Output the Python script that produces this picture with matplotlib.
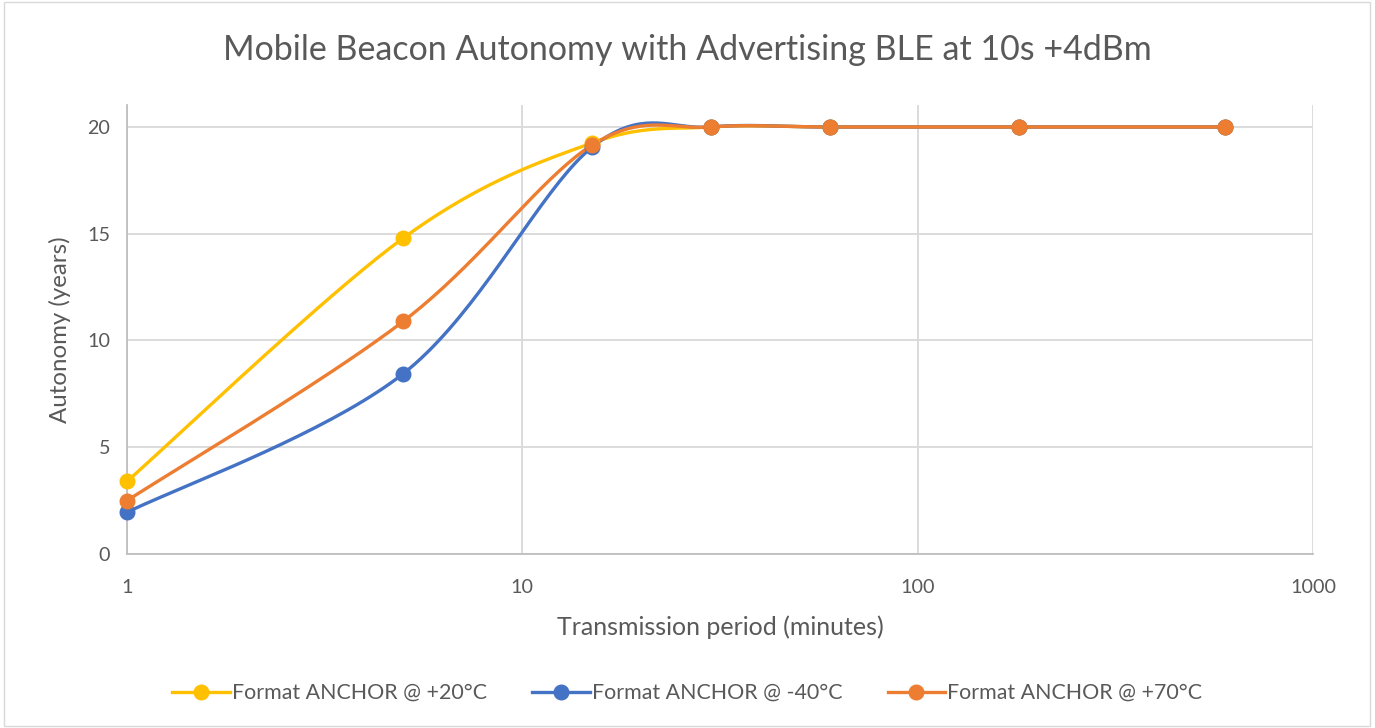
import numpy as np
import matplotlib
matplotlib.use("Agg")
import matplotlib.pyplot as plt
from matplotlib.patches import Rectangle

plt.rcParams['font.family'] = ['Lato', 'DejaVu Sans']

# data
periods = [1, 5, 15, 30, 60, 180, 600]
series_names = ["Format ANCHOR @ +20°C", "Format ANCHOR @ -40°C", "Format ANCHOR @ +70°C"]
autonomy_p20 = [3.4, 14.8, 19.25, 20, 20, 20, 20]
autonomy_m40 = [1.95, 8.45, 19.05, 20, 20, 20, 20]
autonomy_p70 = [2.5, 10.9, 19.15, 20, 20, 20, 20]
colors = ["#FFC000", "#4472C4", "#ED7D31"]

txt = "#595959"
grid = "#D9D9D9"

fig = plt.figure(figsize=(13.75, 7.28), dpi=100)
ax = fig.add_axes([127/1375, 1-554/728, (1313-127)/1375, (554-105)/728])
ax.set_xscale('log')
ax.set_xlim(1, 1000)
ax.set_ylim(0, 21.03)
ax.set_yticks([0, 5, 10, 15, 20])
ax.set_xticks([1, 10, 100, 1000])
ax.set_xticklabels(['1', '10', '100', '1000'])
ax.minorticks_off()
ax.grid(True, color=grid, linewidth=1.3)
ax.set_axisbelow(True)
for s in ['top', 'right']:
    ax.spines[s].set_visible(False)
for s in ['left', 'bottom']:
    ax.spines[s].set_color('#BFBFBF')
    ax.spines[s].set_linewidth(1.3)
ax.tick_params(length=0, labelsize=14.2, labelcolor=txt)
ax.tick_params(axis='x', pad=18)
ax.tick_params(axis='y', pad=12)


def smooth(xs, ys, n=40):
    # Excel-like smoothed line: Catmull-Rom bezier in screen space
    pts = ax.transData.transform(np.column_stack([xs, ys]))
    out = []
    m = len(pts)
    for i in range(m - 1):
        p0 = pts[max(i - 1, 0)]
        p1 = pts[i]
        p2 = pts[i + 1]
        p3 = pts[min(i + 2, m - 1)]
        c1 = p1 + (p2 - p0) / 6.0
        c2 = p2 - (p3 - p1) / 6.0
        t = np.linspace(0, 1, n)[:, None]
        seg = ((1-t)**3)*p1 + 3*((1-t)**2)*t*c1 + 3*(1-t)*(t**2)*c2 + (t**3)*p2
        out.append(seg if i == 0 else seg[1:])
    out = np.vstack(out)
    d = ax.transData.inverted().transform(out)
    return d[:, 0], d[:, 1]


handles = []
for vals, name, c in zip([autonomy_p20, autonomy_m40, autonomy_p70], series_names, colors):
    sx, sy = smooth(periods, vals)
    ax.plot(sx, sy, color=c, linewidth=2.4, solid_capstyle='round', zorder=3, clip_on=False)
    ax.plot(periods, vals, 'o', color=c, markersize=10.5, zorder=4, clip_on=False)
    h, = ax.plot([], [], '-o', color=c, linewidth=2.4, markersize=10.5, label=name)
    handles.append(h)

ax.set_xlabel("Transmission period (minutes)", fontsize=18, color=txt, labelpad=14)
ax.set_ylabel("Autonomy (years)", fontsize=17.3, color=txt, labelpad=12)
fig.text(0.5, 1-50/728, "Mobile Beacon Autonomy with Advertising BLE at 10s +4dBm",
         ha='center', va='center', fontsize=24.5, color=txt)

fig.legend(handles=handles, loc='center', bbox_to_anchor=(0.5, 1-693/728), ncol=3,
           frameon=False, fontsize=15.4, labelcolor=txt, handlelength=2.7,
           handletextpad=0.1, columnspacing=2.1)

fig.patches.append(Rectangle((4/1375, 2/728), 1366/1375, 724/728, transform=fig.transFigure,
                             fill=False, edgecolor='#D9D9D9', linewidth=1))

fig.savefig("out.png", dpi=100)
